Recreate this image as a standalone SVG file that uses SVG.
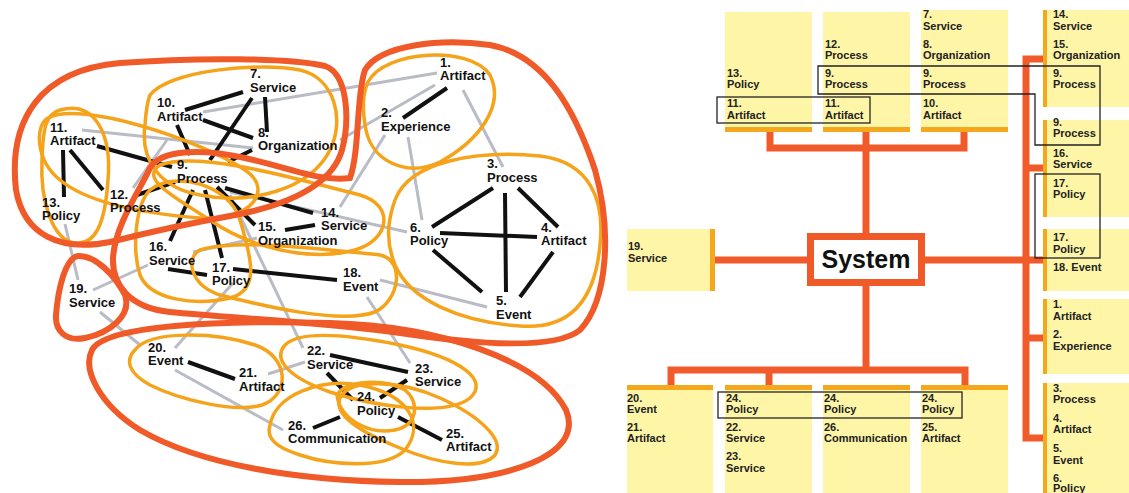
<svg xmlns="http://www.w3.org/2000/svg" width="1129" height="493" viewBox="0 0 1129 493">
<style>
.bg{fill:#fff}
.blk{stroke:#111;stroke-width:4;fill:none;stroke-linecap:butt}
.gry{stroke:#b9bcc4;stroke-width:3;fill:none}
.red{stroke:#f05a28;stroke-width:6;fill:none}
.org{stroke:#f5a31b;stroke-width:3.5;fill:none}
.lt{font-family:"Liberation Sans",Arial,sans-serif;font-size:13px;font-weight:bold;fill:#111}
.rt{font-family:"Liberation Sans",Arial,sans-serif;font-size:11px;font-weight:bold;fill:#222}
.box{fill:#fef5a6}
.bar{fill:#f5a81c}
.conn{stroke:#f15a2b;stroke-width:7;fill:none}
.sel{stroke:#222;stroke-width:1.3;fill:none}
</style>
<rect class="bg" x="0" y="0" width="1129" height="493"/>

<!-- LEFT GRAPH: connectors -->
<g id="graph-edges">
<g class="gry">
<line x1="203" y1="112" x2="437" y2="73"/>
<line x1="340" y1="140" x2="435" y2="85"/>
<line x1="82" y1="130" x2="253" y2="148"/>
<line x1="385" y1="135" x2="340" y2="207"/>
<line x1="408" y1="137" x2="422" y2="220"/>
<line x1="463" y1="90" x2="503" y2="167"/>
<line x1="230" y1="192" x2="407" y2="232"/>
<line x1="380" y1="280" x2="487" y2="307"/>
<line x1="367" y1="297" x2="410" y2="363"/>
<line x1="230" y1="195" x2="303" y2="348"/>
<line x1="65" y1="224" x2="78" y2="280"/>
<line x1="93" y1="290" x2="148" y2="265"/>
<line x1="100" y1="312" x2="140" y2="345"/>
<line x1="193" y1="252" x2="257" y2="238"/>
<line x1="233" y1="283" x2="175" y2="348"/>
<line x1="175" y1="370" x2="283" y2="430"/>
<line x1="268" y1="374" x2="305" y2="362"/>
<line x1="133" y1="188" x2="167" y2="140"/>
</g>
<g class="blk">
<line x1="185" y1="110" x2="243" y2="92"/>
<line x1="265" y1="97" x2="267" y2="132"/>
<line x1="252" y1="98" x2="210" y2="160"/>
<line x1="203" y1="120" x2="253" y2="138"/>
<line x1="177" y1="125" x2="190" y2="155"/>
<line x1="252" y1="150" x2="228" y2="162"/>
<line x1="97" y1="146" x2="172" y2="167"/>
<line x1="63" y1="150" x2="64" y2="197"/>
<line x1="70" y1="150" x2="103" y2="190"/>
<line x1="137" y1="195" x2="175" y2="182"/>
<line x1="193" y1="190" x2="170" y2="241"/>
<line x1="205" y1="190" x2="222" y2="258"/>
<line x1="217" y1="187" x2="255" y2="225"/>
<line x1="225" y1="188" x2="313" y2="213"/>
<line x1="285" y1="230" x2="315" y2="225"/>
<line x1="168" y1="269" x2="207" y2="275"/>
<line x1="233" y1="269" x2="337" y2="280"/>
<line x1="432" y1="227" x2="493" y2="188"/>
<line x1="518" y1="188" x2="558" y2="227"/>
<line x1="505" y1="193" x2="506" y2="292"/>
<line x1="440" y1="233" x2="537" y2="237"/>
<line x1="433" y1="250" x2="482" y2="292"/>
<line x1="553" y1="252" x2="520" y2="297"/>
<line x1="447" y1="88" x2="403" y2="118"/>
<line x1="188" y1="362" x2="235" y2="379"/>
<line x1="330" y1="355" x2="408" y2="372"/>
<line x1="327" y1="373" x2="353" y2="400"/>
<line x1="407" y1="380" x2="380" y2="398"/>
<line x1="340" y1="417" x2="313" y2="428"/>
<line x1="398" y1="417" x2="442" y2="440"/>
</g>
</g>

<!-- LEFT GRAPH: cluster outlines -->
<g id="clusters">
<g class="org">
<path d="M60,110 C95,100 112,135 108,180 C105,225 95,245 75,243 C52,240 40,200 42,160 C43,130 45,114 60,110 Z"/>
<path d="M48,118 C80,100 200,140 245,170 C275,190 250,222 200,218 C150,214 90,205 60,180 C35,160 35,125 48,118 Z"/>
<path d="M150,95 C170,70 260,62 300,70 C335,78 345,120 330,150 C310,190 250,205 200,195 C160,188 140,160 145,125 C146,110 148,100 150,95 Z"/>
<path d="M160,165 C200,150 300,180 360,195 C395,205 390,240 355,250 C310,262 250,248 210,220 C170,195 140,178 160,165 Z"/>
<path d="M150,190 C175,170 230,185 240,220 C252,260 260,290 230,298 C195,306 150,300 140,275 C132,250 135,205 150,190 Z"/>
<path d="M200,250 C240,238 330,250 380,255 C405,260 400,300 375,312 C340,325 260,305 220,295 C190,285 185,258 200,250 Z"/>
<path d="M368,82 C385,50 470,45 490,75 C505,105 480,140 440,162 C405,178 372,160 366,130 C362,110 362,95 368,82 Z"/>
<path d="M395,200 C410,160 480,150 540,156 C590,162 605,200 600,245 C595,300 570,330 520,326 C460,322 410,300 395,265 C385,240 388,220 395,200 Z"/>
<path d="M135,350 C150,330 215,332 255,345 C290,357 290,395 262,405 C235,413 180,400 150,385 C128,373 125,360 135,350 Z"/>
<path d="M285,345 C300,330 350,335 400,345 C460,358 490,380 470,398 C445,418 370,405 330,392 C290,378 272,360 285,345 Z"/>
<path d="M270,425 C275,395 320,378 360,385 C410,395 425,425 405,450 C385,470 330,465 300,455 C275,447 266,438 270,425 Z"/>
<path d="M340,398 C350,378 400,380 440,398 C480,416 505,440 495,455 C482,470 440,465 400,448 C360,432 333,415 340,398 Z"/>
<path d="M337,395 C345,380 385,378 405,390 C420,402 418,425 395,430 C370,435 340,420 337,395 Z"/>
</g>
<g class="red">
<path d="M16,190 C8,120 40,70 120,63 C200,57 290,58 325,66 C348,74 350,120 342,150 C332,185 290,205 230,216 C180,225 150,232 110,242 C60,252 24,235 16,190 Z"/>
<path d="M150,168 C160,150 200,148 245,158 C290,168 320,182 350,178 C360,150 356,95 365,70 C380,45 440,38 490,45 C545,55 575,110 595,170 C612,230 608,300 580,330 C555,350 480,345 400,333 C320,322 230,318 170,312 C130,308 112,285 113,258 C115,225 140,190 150,168 Z"/>
<path d="M78,256 C95,255 115,275 125,295 C132,315 110,333 85,338 C65,342 55,330 56,315 C58,290 65,258 78,256 Z"/>
<path d="M92,350 C105,325 220,320 330,323 C440,326 540,360 566,410 C585,455 510,483 400,482 C300,481 200,465 140,430 C100,405 82,370 92,350 Z"/>
</g>
</g>

<!-- LEFT GRAPH: nodes -->
<g class="lt">
<g id="n1"><text x="440" y="67">1.</text><text x="440" y="80">Artifact</text></g>
<g id="n2"><text x="381" y="117">2.</text><text x="381" y="131">Experience</text></g>
<g id="n3"><text x="487" y="168">3.</text><text x="487" y="182">Process</text></g>
<g id="n4"><text x="541" y="232">4.</text><text x="541" y="245">Artifact</text></g>
<g id="n5"><text x="496" y="305">5.</text><text x="496" y="319">Event</text></g>
<g id="n6"><text x="410" y="232">6.</text><text x="410" y="245">Policy</text></g>
<g id="n7"><text x="250" y="78">7.</text><text x="250" y="92">Service</text></g>
<g id="n8"><text x="258" y="137">8.</text><text x="258" y="150">Organization</text></g>
<g id="n9"><text x="177" y="169">9.</text><text x="177" y="183">Process</text></g>
<g id="n10"><text x="157" y="107">10.</text><text x="157" y="121">Artifact</text></g>
<g id="n11"><text x="50" y="132">11.</text><text x="50" y="145">Artifact</text></g>
<g id="n12"><text x="110" y="199">12.</text><text x="110" y="212">Process</text></g>
<g id="n13"><text x="42" y="207">13.</text><text x="42" y="220">Policy</text></g>
<g id="n14"><text x="321" y="217">14.</text><text x="321" y="230">Service</text></g>
<g id="n15"><text x="258" y="231">15.</text><text x="258" y="245">Organization</text></g>
<g id="n16"><text x="149" y="251">16.</text><text x="149" y="265">Service</text></g>
<g id="n17"><text x="212" y="272">17.</text><text x="212" y="285">Policy</text></g>
<g id="n18"><text x="343" y="277">18.</text><text x="343" y="291">Event</text></g>
<g id="n19"><text x="69" y="293">19.</text><text x="69" y="307">Service</text></g>
<g id="n20"><text x="148" y="352">20.</text><text x="148" y="365">Event</text></g>
<g id="n21"><text x="239" y="377">21.</text><text x="239" y="391">Artifact</text></g>
<g id="n22"><text x="307" y="355">22.</text><text x="307" y="369">Service</text></g>
<g id="n23"><text x="415" y="373">23.</text><text x="415" y="386">Service</text></g>
<g id="n24"><text x="357" y="401">24.</text><text x="357" y="415">Policy</text></g>
<g id="n25"><text x="446" y="438">25.</text><text x="446" y="451">Artifact</text></g>
<g id="n26"><text x="288" y="430">26.</text><text x="288" y="443">Communication</text></g>
</g>

<!-- RIGHT PANEL: connectors -->
<g id="tree-connectors" class="conn">
<polyline points="770,132 770,148 964,148 964,132"/>
<line x1="866" y1="132" x2="866" y2="236"/>
<line x1="715" y1="260" x2="810" y2="260"/>
<line x1="922" y1="260" x2="1043" y2="260"/>
<polyline points="1043,59 1026,59 1026,438 1043,438"/>
<line x1="1026" y1="168" x2="1043" y2="168"/>
<line x1="1026" y1="338" x2="1043" y2="338"/>
<line x1="866" y1="283" x2="866" y2="370"/>
<polyline points="671,385 671,370 965,370 965,385"/>
<line x1="769" y1="370" x2="769" y2="385"/>
</g>

<!-- RIGHT PANEL: boxes -->
<g class="rt">
<g id="b-top1"><rect class="box" x="725" y="12" width="87" height="120"/><rect class="bar" x="725" y="127" width="87" height="5"/>
<text x="727" y="77">13.</text><text x="727" y="88">Policy</text><text x="727" y="107">11.</text><text x="727" y="119">Artifact</text></g>
<g id="b-top2"><rect class="box" x="823" y="12" width="87" height="120"/><rect class="bar" x="823" y="127" width="87" height="5"/>
<text x="825" y="48">12.</text><text x="825" y="59">Process</text><text x="825" y="77">9.</text><text x="825" y="88">Process</text><text x="825" y="107">11.</text><text x="825" y="119">Artifact</text></g>
<g id="b-top3"><rect class="box" x="921" y="10" width="87" height="122"/><rect class="bar" x="921" y="127" width="87" height="5"/>
<text x="923" y="18">7.</text><text x="923" y="30">Service</text><text x="923" y="48">8.</text><text x="923" y="59">Organization</text><text x="923" y="77">9.</text><text x="923" y="88">Process</text><text x="923" y="107">10.</text><text x="923" y="119">Artifact</text></g>

<g id="b-r1"><rect class="box" x="1043" y="10" width="86" height="97"/><rect class="bar" x="1043" y="10" width="4" height="97"/>
<text x="1053" y="18">14.</text><text x="1053" y="30">Service</text><text x="1053" y="48">15.</text><text x="1053" y="59">Organization</text><text x="1053" y="77">9.</text><text x="1053" y="88">Process</text></g>
<g id="b-r2"><rect class="box" x="1043" y="120" width="86" height="97"/><rect class="bar" x="1043" y="120" width="4" height="97"/>
<text x="1053" y="126">9.</text><text x="1053" y="137">Process</text><text x="1053" y="157">16.</text><text x="1053" y="168">Service</text><text x="1053" y="187">17.</text><text x="1053" y="198">Policy</text></g>
<g id="b-r3"><rect class="box" x="1043" y="229" width="86" height="62"/><rect class="bar" x="1043" y="229" width="4" height="62"/>
<text x="1053" y="241">17.</text><text x="1053" y="253">Policy</text><text x="1053" y="271">18. Event</text></g>
<g id="b-r4"><rect class="box" x="1043" y="299" width="86" height="75"/><rect class="bar" x="1043" y="299" width="4" height="75"/>
<text x="1053" y="308">1.</text><text x="1053" y="320">Artifact</text><text x="1053" y="338">2.</text><text x="1053" y="350">Experience</text></g>
<g id="b-r5"><rect class="box" x="1043" y="383" width="86" height="110"/><rect class="bar" x="1043" y="383" width="4" height="110"/>
<text x="1053" y="392">3.</text><text x="1053" y="403">Process</text><text x="1053" y="422">4.</text><text x="1053" y="433">Artifact</text><text x="1053" y="452">5.</text><text x="1053" y="464">Event</text><text x="1053" y="482">6.</text><text x="1053" y="492">Policy</text></g>

<g id="b-left"><rect class="box" x="627" y="229" width="86" height="62"/><rect class="bar" x="710" y="229" width="5" height="62"/>
<text x="628" y="250">19.</text><text x="628" y="262">Service</text></g>

<g id="b-bot1"><rect class="box" x="627" y="385" width="86" height="108"/><rect class="bar" x="627" y="385" width="86" height="5"/>
<text x="627" y="402">20.</text><text x="627" y="413">Event</text><text x="627" y="431">21.</text><text x="627" y="442">Artifact</text></g>
<g id="b-bot2"><rect class="box" x="725" y="385" width="87" height="108"/><rect class="bar" x="725" y="385" width="87" height="5"/>
<text x="726" y="402">24.</text><text x="726" y="413">Policy</text><text x="726" y="431">22.</text><text x="726" y="442">Service</text><text x="726" y="460">23.</text><text x="726" y="472">Service</text></g>
<g id="b-bot3"><rect class="box" x="823" y="385" width="87" height="108"/><rect class="bar" x="823" y="385" width="87" height="5"/>
<text x="824" y="402">24.</text><text x="824" y="413">Policy</text><text x="824" y="431">26.</text><text x="824" y="442">Communication</text></g>
<g id="b-bot4"><rect class="box" x="921" y="385" width="87" height="108"/><rect class="bar" x="921" y="385" width="87" height="5"/>
<text x="922" y="402">24.</text><text x="922" y="413">Policy</text><text x="922" y="431">25.</text><text x="922" y="442">Artifact</text></g>
</g>

<g id="system">
<rect x="810.5" y="236.5" width="111" height="46" fill="#fff" stroke="#f05a28" stroke-width="7"/>
<text x="866" y="268" text-anchor="middle" font-family="'Liberation Sans',Arial,sans-serif" font-size="25" font-weight="bold" fill="#111">System</text>
</g>

<!-- selection outlines -->
<g id="outlines" class="sel">
<rect x="717" y="97" width="153" height="26"/>
<polygon points="818,66 1100,66 1100,145 1035,145 1035,94 818,94"/>
<rect x="1035" y="174" width="65" height="84"/>
<rect x="718" y="392" width="244" height="26"/>
</g>
</svg>
